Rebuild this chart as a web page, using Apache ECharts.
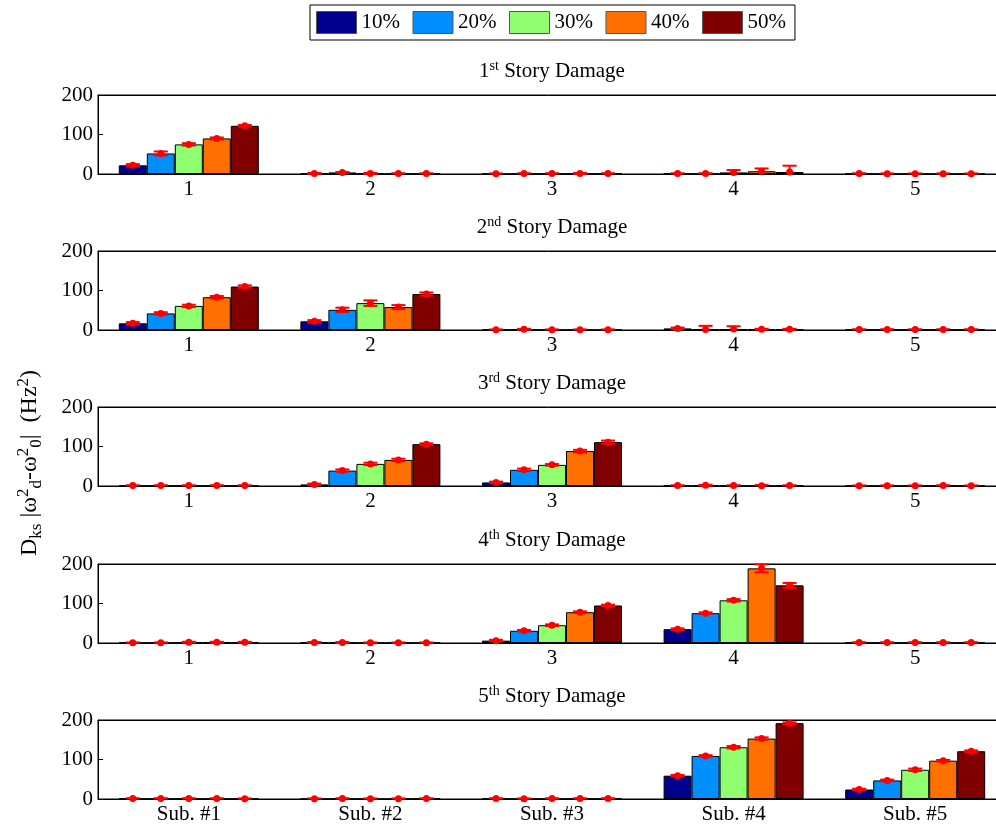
<!DOCTYPE html>
<html>
<head>
<meta charset="utf-8">
<script src="https://cdn.jsdelivr.net/npm/echarts@6/dist/echarts.min.js"></script>
<style>
  html, body { margin: 0; padding: 0; background: #fff; }
  #chart { width: 996px; height: 827px; }
</style>
</head>
<body>
<div id="chart"></div>
<script>
const FONT = "Liberation Serif, Times New Roman, serif";

const LEVELS = ["10%", "20%", "30%", "40%", "50%"];
const COLORS = ["#00008f", "#008fff", "#8fff70", "#ff7000", "#800000"];
const STORY_TITLES = [["1", "st"], ["2", "nd"], ["3", "rd"], ["4", "th"], ["5", "th"]];
const CATS_NUM = ["1", "2", "3", "4", "5"];
const CATS_SUB = ["Sub. #1", "Sub. #2", "Sub. #3", "Sub. #4", "Sub. #5"];

// rows: damage level (10%..50%), columns: substructure 1..5
const story1 = [
  [22, 1.5, 0.5, 1, 1],
  [52, 4, 1, 1, 0.5],
  [75, 1.5, 1, 4, 0.5],
  [90, 1, 1.5, 7, 0.5],
  [122, 1, 1, 5, 0.5]
];
const err1 = [
  [3, 1, 1, 1, 1],
  [5, 1, 1, 1, 1],
  [3, 1, 1, 6, 1],
  [2.5, 1, 1, 7, 1],
  [2, 1, 1, 16, 1]
];
const story2 = [
  [17, 22, 0.5, 4, 1],
  [42, 51, 2, 1.5, 1],
  [61, 68, 0.5, 2.5, 1],
  [83, 58, 0.5, 2, 1],
  [110, 91, 0.5, 2, 1]
];
const err2 = [
  [3, 3, 1, 2, 1],
  [3, 5.5, 1, 9, 1],
  [3, 7, 1, 7, 1],
  [3, 5, 1, 1, 1],
  [3, 4, 1, 1, 1]
];
const story3 = [
  [1, 4, 9, 1, 0.5],
  [1, 39, 41, 2, 0.5],
  [1, 56, 53.5, 1, 0.5],
  [1, 66, 88.5, 0.5, 1],
  [1, 106, 111, 1, 0.5]
];
const err3 = [
  [1, 2, 2, 1, 1],
  [1, 3, 3, 1, 1],
  [1, 3, 2, 1, 1],
  [1, 3, 3, 2, 1],
  [1, 2, 4, 1, 1]
];
const story4 = [
  [0.5, 1.5, 6, 35, 1],
  [0.5, 1.5, 31, 75.5, 1],
  [2, 0.5, 45, 108, 1],
  [2, 0.5, 78, 189, 1],
  [2, 0.5, 95, 146, 1]
];
const err4 = [
  [1, 1, 2, 2, 1],
  [1, 1, 2, 2, 1],
  [1, 1, 2, 3, 1],
  [1, 1, 2, 10, 1],
  [1, 1, 2, 6, 1]
];
const story5 = [
  [1, 0.5, 1, 59, 24],
  [1, 1, 0.5, 109, 47],
  [1, 0.5, 1, 131, 74],
  [1, 0.5, 1, 153, 97],
  [0.5, 1, 1, 192, 121]
];
const err5 = [
  [1, 1, 1, 2, 2],
  [1, 1, 1, 2, 2],
  [1, 1, 1, 3, 3],
  [1, 1, 1, 3, 2],
  [1, 1, 1, 2, 2]
];

const STORIES = [story1, story2, story3, story4, story5];
const ERRORS = [err1, err2, err3, err4, err5];

const GRID_TOPS = [95, 251, 407, 564, 720];
const GRID_H = 79;
const BAR_W = 28;

const grids = [];
const xAxes = [];
const yAxes = [];
const titles = [];
const series = [];

function errorRenderer(offset) {
  return function (params, api) {
    const cat = api.value(0);
    const val = api.value(1);
    const err = api.value(2);
    const c = api.coord([cat, val]);
    const x = c[0] + offset;
    const yTop = api.coord([cat, val + err])[1];
    const lowVal = val - err;
    const yLow = api.coord([cat, Math.max(lowVal, 0)])[1];
    const red = { stroke: "#ff0000", lineWidth: 2 };
    const children = [
      { type: "line", shape: { x1: x, y1: yTop, x2: x, y2: yLow }, style: red },
      { type: "line", shape: { x1: x - 7, y1: yTop, x2: x + 7, y2: yTop }, style: red }
    ];
    if (lowVal > 0) {
      children.push({ type: "line", shape: { x1: x - 7, y1: yLow, x2: x + 7, y2: yLow }, style: red });
    }
    children.push({ type: "circle", shape: { cx: x, cy: c[1], r: 3.5 }, style: { fill: "#ff0000" } });
    return { type: "group", children };
  };
}

for (let i = 0; i < 5; i += 1) {
  grids.push({
    left: 98, top: GRID_TOPS[i], width: 908, height: GRID_H,
    outerBoundsMode: "none", containLabel: false,
    show: true, borderColor: "#000", borderWidth: 1, backgroundColor: "#fff"
  });
  const cats = i === 4 ? CATS_SUB : CATS_NUM;
  xAxes.push({
    gridIndex: i, type: "category", data: cats, position: "bottom",
    axisLine: { lineStyle: { color: "#000", width: 1 } },
    axisTick: { inside: true, alignWithLabel: true, length: 5, lineStyle: { color: "#000" } },
    axisLabel: { fontFamily: FONT, fontSize: 21, color: "#000", margin: 5 }
  });
  xAxes.push({
    gridIndex: i, type: "category", data: cats, position: "top",
    axisLine: { lineStyle: { color: "#000", width: 1 } },
    axisTick: { inside: true, alignWithLabel: true, length: 5, lineStyle: { color: "#000" } },
    axisLabel: { show: false }
  });
  yAxes.push({
    gridIndex: i, type: "value", min: 0, max: 200, interval: 100,
    splitLine: { show: false },
    axisLine: { show: true, lineStyle: { color: "#000", width: 1 } },
    axisTick: { show: true, inside: true, length: 5, lineStyle: { color: "#000" } },
    axisLabel: { fontFamily: FONT, fontSize: 21, color: "#000", margin: 5 }
  });
  const [num, suf] = STORY_TITLES[i];
  titles.push({
    text: `{a|${num}}{b|${suf}}{a| Story Damage}`,
    left: 552, top: GRID_TOPS[i] - 36, textAlign: "center", padding: 0,
    textStyle: {
      fontWeight: "normal",
      rich: {
        a: { fontFamily: FONT, fontSize: 21, fontWeight: "normal", color: "#000", lineHeight: 24 },
        b: { fontFamily: FONT, fontSize: 14, fontWeight: "normal", color: "#000", lineHeight: 13, verticalAlign: "top" }
      }
    }
  });

  for (let k = 0; k < 5; k += 1) {
    series.push({
      type: "bar", name: LEVELS[k], xAxisIndex: 2 * i, yAxisIndex: i,
      data: STORIES[i][k], barWidth: BAR_W, barGap: "0%",
      itemStyle: { color: COLORS[k], borderColor: "#000", borderWidth: 1 },
      animation: false
    });
  }
  for (let k = 0; k < 5; k += 1) {
    series.push({
      type: "custom", name: "err" + i + "_" + k, xAxisIndex: 2 * i, yAxisIndex: i,
      data: STORIES[i][k].map((v, j) => [j, v, ERRORS[i][k][j]]),
      encode: { x: 0, y: 1 },
      renderItem: errorRenderer((k - 2) * BAR_W),
      clip: false, z: 10, silent: true, animation: false
    });
  }
}

const option = {
  backgroundColor: "#fff",
  animation: false,
  color: COLORS,
  title: titles,
  legend: {
    data: LEVELS.map((name) => ({ name, icon: "rect" })),
    left: 310, top: 5, padding: [6, 9, 6, 6],
    itemWidth: 40, itemHeight: 22, itemGap: 12.5,
    borderColor: "#000", borderWidth: 1, backgroundColor: "#fff",
    itemStyle: { borderColor: "#555", borderWidth: 1 },
    textStyle: { fontFamily: FONT, fontSize: 21, color: "#000" },
    selectedMode: false
  },
  grid: grids,
  xAxis: xAxes,
  yAxis: yAxes,
  graphic: [{
    type: "text", x: 30, y: 463, rotation: Math.PI / 2,
    style: {
      text: "{a|D}{s|ks}{a| |ω}{p|2}{s|d}{a|-ω}{p|2}{s|0}{a||  (Hz}{p|2}{a|)}",
      align: "center", verticalAlign: "middle",
      rich: {
        a: { fontFamily: FONT, fontSize: 24, fill: "#000", lineHeight: 30 },
        s: { fontFamily: FONT, fontSize: 17, fill: "#000", lineHeight: 17, verticalAlign: "bottom" },
        p: { fontFamily: FONT, fontSize: 17, fill: "#000", lineHeight: 17, verticalAlign: "top" }
      }
    }
  }],
  series
};

const chart = echarts.init(document.getElementById("chart"), null, { renderer: "canvas" });
chart.setOption(option);
</script>
</body>
</html>
